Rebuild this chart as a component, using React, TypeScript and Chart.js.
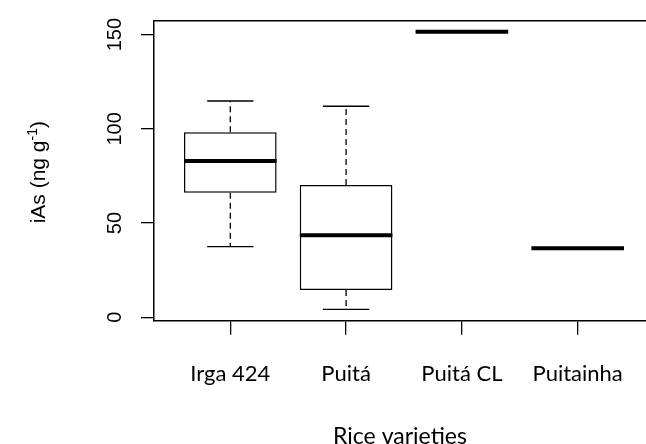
import React, { useEffect, useRef } from 'react';
import { Chart, registerables } from 'chart.js';

Chart.register(...registerables);

// ---- data ----
const categories = ['Irga 424', 'Puitá', 'Puitá CL', 'Puitainha'];
const whiskerLow = [37.5, 4.2, 151.5, 36.6];
const q1 = [66.1, 14.5, 151.5, 36.6];
const median = [83, 43.5, 151.5, 36.6];
const q3 = [98.2, 70.2, 151.5, 36.6];
const whiskerHigh = [114.8, 112, 151.5, 36.6];
const yTickValues = [0, 50, 100, 150];
const yTitleMain = 'iAs (ng g';
const yTitleSup = '-1';
const yTitleEnd = ')';
const xTitle = 'Rice varieties';

// ---- styles ----
const BOX_HALF = 0.4; // half box width in x units (R boxwex 0.8)
const INK = '#000';

const boxExtras = {
  id: 'boxExtras',
  afterDatasetsDraw(chart: any) {
    const { ctx, chartArea, scales } = chart;
    const x = scales.x;
    const y = scales.y;
    const line = (x1: number, y1: number, x2: number, y2: number) => {
      ctx.beginPath();
      ctx.moveTo(x1, y1);
      ctx.lineTo(x2, y2);
      ctx.stroke();
    };
    ctx.save();
    ctx.strokeStyle = INK;
    // top frame line
    ctx.lineWidth = 1.5;
    line(chartArea.left, chartArea.top, chartArea.right, chartArea.top);

    categories.forEach((_, i) => {
      const xc = x.getPixelForValue(i + 1);
      const half = x.getPixelForValue(i + 1 + BOX_HALF) - xc;
      const capHalf = half / 2;
      const yHi = y.getPixelForValue(whiskerHigh[i]);
      const yLo = y.getPixelForValue(whiskerLow[i]);
      const yQ1 = y.getPixelForValue(q1[i]);
      const yQ3 = y.getPixelForValue(q3[i]);
      const yMed = y.getPixelForValue(median[i]);
      ctx.lineCap = 'butt';
      ctx.lineWidth = 1.3;
      ctx.setLineDash([6, 4]);
      if (whiskerHigh[i] > q3[i]) line(xc, yQ3, xc, yHi);
      if (whiskerLow[i] < q1[i]) line(xc, yQ1, xc, yLo);
      ctx.setLineDash([]);
      line(xc - capHalf, yHi, xc + capHalf, yHi);
      line(xc - capHalf, yLo, xc + capHalf, yLo);
      ctx.lineWidth = 4;
      line(xc - half, yMed, xc + half, yMed);
    });
    ctx.restore();
  },
  afterDraw(chart: any) {
    const { ctx, chartArea, scales } = chart;
    const y = scales.y;
    ctx.save();
    ctx.fillStyle = INK;
    // rotated y tick labels (R style, las = 0)
    ctx.font = '20px "Liberation Sans", Arial, sans-serif';
    ctx.textAlign = 'center';
    ctx.textBaseline = 'middle';
    y.ticks.forEach((t: any) => {
      const py = y.getPixelForValue(t.value);
      ctx.save();
      ctx.translate(115.5, py);
      ctx.rotate(-Math.PI / 2);
      ctx.fillText(String(t.value), 0, 0);
      ctx.restore();
    });
    // y axis title with superscript
    const mainFont = '21px "Liberation Sans", Arial, sans-serif';
    const supFont = '14px "Liberation Sans", Arial, sans-serif';
    ctx.font = mainFont;
    const wMain = ctx.measureText(yTitleMain).width;
    const wEnd = ctx.measureText(yTitleEnd).width;
    ctx.font = supFont;
    const wSup = ctx.measureText(yTitleSup).width;
    const total = wMain + wSup + wEnd;
    ctx.translate(45, (chartArea.top + chartArea.bottom) / 2 + 1.5);
    ctx.rotate(-Math.PI / 2);
    ctx.textAlign = 'left';
    ctx.textBaseline = 'alphabetic';
    let cx = -total / 2;
    ctx.font = mainFont;
    ctx.fillText(yTitleMain, cx, 0);
    cx += wMain;
    ctx.font = supFont;
    ctx.fillText(yTitleSup, cx, -8);
    cx += wSup;
    ctx.font = mainFont;
    ctx.fillText(yTitleEnd, cx, 0);
    ctx.restore();
  },
};

export default function App() {
  const canvasRef = useRef<HTMLCanvasElement | null>(null);

  useEffect(() => {
    const canvas = canvasRef.current;
    if (!canvas) return;
    const boxData = categories
      .map((_, i) => ({ x: i + 1, y: [q1[i], q3[i]] }))
      .filter((_, i) => q3[i] > q1[i]);

    const chart = new Chart(canvas, {
      type: 'bar',
      data: {
        datasets: [
          {
            label: 'iAs',
            data: boxData as any,
            backgroundColor: '#ffffff',
            borderColor: INK,
            borderWidth: 1.5,
            borderSkipped: false,
            categoryPercentage: 0.8,
            barPercentage: 1.0,
          },
        ],
      },
      options: {
        animation: false,
        responsive: true,
        maintainAspectRatio: false,
        layout: { padding: { top: 20.7, left: 0, right: 0, bottom: 0 } },
        plugins: {
          legend: { display: false },
          tooltip: { enabled: false },
        },
        scales: {
          x: {
            type: 'linear',
            min: 0.341,
            max: 4.59,
            offset: false,
            afterBuildTicks: (s: any) => {
              s.ticks = categories.map((_, i) => ({ value: i + 1 }));
            },
            afterFit: (s: any) => {
              s.height = 123.3;
              s.paddingLeft = 0;
              s.paddingRight = 0;
            },
            ticks: {
              autoSkip: false,
              maxRotation: 0,
              minRotation: 0,
              padding: 26,
              color: INK,
              font: { family: 'Lato', size: 22 },
              callback: (v: any) => categories[Number(v) - 1] ?? '',
            },
            grid: {
              offset: false,
              drawOnChartArea: false,
              drawTicks: true,
              tickLength: 14,
              color: INK,
              lineWidth: 1.3,
            },
            border: { display: true, color: INK, width: 1.5 },
            title: {
              display: true,
              text: xTitle,
              color: INK,
              font: { family: 'Lato', size: 23, lineHeight: 1 },
              padding: { top: 0, bottom: -4 },
            },
          },
          y: {
            type: 'linear',
            min: -1.8,
            max: 157.4,
            afterBuildTicks: (s: any) => {
              s.ticks = yTickValues.map((v) => ({ value: v }));
            },
            afterFit: (s: any) => {
              s.width = 154;
              s.paddingTop = 0;
              s.paddingBottom = 0;
            },
            ticks: { display: false },
            grid: {
              drawOnChartArea: false,
              drawTicks: true,
              tickLength: 13,
              color: INK,
              lineWidth: 1.3,
            },
            border: { display: true, color: INK, width: 1.5 },
          },
        },
      },
      plugins: [boxExtras],
    });
    return () => chart.destroy();
  }, []);

  return (
    <div style={{ position: 'absolute', left: 0, top: 0, width: 646, height: 444, background: '#fff' }}>
      <canvas ref={canvasRef} />
    </div>
  );
}
